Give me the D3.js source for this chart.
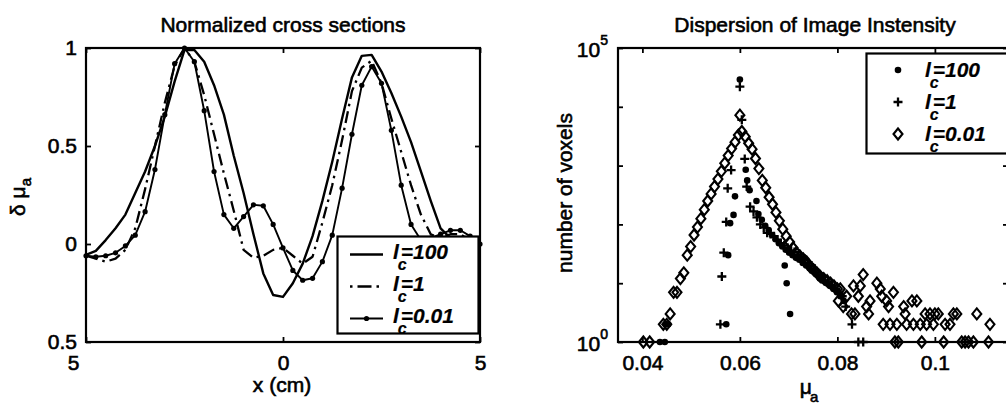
<!DOCTYPE html>
<html>
<head>
<meta charset="utf-8">
<script src="https://cdn.jsdelivr.net/npm/d3@7"></script>
<style>
  html, body { margin: 0; padding: 0; background: #fff; }
  svg { display: block; }
  text { stroke: #000; stroke-width: 0.6px; fill: #000; }
</style>
</head>
<body>
<svg id="fig" width="1006" height="409"></svg>
<script>
// ---------------- Left panel: normalized cross sections ----------------
const xPos = [-5, -4.75, -4.5, -4.25, -4, -3.75, -3.5, -3.25, -3, -2.75, -2.5, -2.25, -2, -1.75, -1.5, -1.25, -1, -0.75, -0.5, -0.25,
  0, 0.25, 0.5, 0.75, 1, 1.25, 1.5, 1.75, 2, 2.25, 2.5, 2.75, 3, 3.25, 3.5, 3.75, 4, 4.25, 4.5, 4.75, 5];

const profileLc100 = [-0.055, -0.035, 0.02, 0.08, 0.15, 0.26, 0.37, 0.5, 0.65, 0.83, 0.99, 0.99, 0.93, 0.81, 0.66, 0.45, 0.26, 0.05, -0.15, -0.26,
  -0.27, -0.2, -0.1, 0.04, 0.22, 0.42, 0.64, 0.85, 0.96, 0.965, 0.88, 0.77, 0.65, 0.52, 0.37, 0.22, 0.08, 0.03, 0.03, 0.02, 0.0];

const profileLc1 = [-0.06, -0.075, -0.09, -0.075, -0.03, 0.08, 0.28, 0.5, 0.72, 0.91, 1.0, 0.93, 0.76, 0.56, 0.36, 0.17, -0.03, -0.07, -0.06, -0.03,
  -0.02, -0.06, -0.1, -0.065, 0.11, 0.3, 0.53, 0.78, 0.9, 0.935, 0.82, 0.64, 0.47, 0.3, 0.15, 0.05, 0.03, 0.05, 0.05, 0.02, -0.02];

const profileLc001 = [-0.06, -0.065, -0.06, -0.045, -0.01, 0.045, 0.165, 0.38, 0.66, 0.92, 1.0, 0.93, 0.68, 0.37, 0.15, 0.08, 0.14, 0.2, 0.195, 0.1,
  -0.02, -0.135, -0.185, -0.175, -0.09, 0.045, 0.285, 0.56, 0.81, 0.905, 0.82, 0.58, 0.3, 0.1, 0.02, 0.03, 0.05, 0.07, 0.07, 0.04, 0.0];

const legendNames = ["100", "1", "0.01"];

const xTickValues = [-5, 0, 5];
const xTickLabels = ["5", "0", "5"];
const yTickValues = [-0.5, 0, 0.5, 1];
const yTickLabels = ["0.5", "0", "0.5", "1"];

// ---------------- Right panel: histogram of reconstructed mu_a ----------------
const muLc100 = [0.0436, 0.0446, 0.0448, 0.0453, 0.0572, 0.0576, 0.0580, 0.0587, 0.0590, 0.0600, 0.0612, 0.0615, 0.0620, 0.0634,
  0.0638, 0.0645, 0.0652, 0.0659, 0.0666, 0.0673, 0.0680, 0.0687, 0.0692, 0.0694, 0.0696, 0.0701, 0.0703, 0.0708, 0.0715,
  0.0722, 0.0729, 0.0736, 0.0743, 0.0750, 0.0757, 0.0764, 0.0771, 0.0778, 0.0785, 0.0792, 0.0799, 0.0806, 0.0813];
const countLc100 = [1, 1, 2, 2, 2, 30, 105, 145, 300, 29000, 850, 560, 380, 250,
  150, 120, 95, 80, 66, 56, 48, 42, 20, 37, 10, 33, 3, 30, 27,
  25, 22, 20, 18, 16, 14, 12, 11, 10, 9, 8, 7, 6, 5];

const muLc1 = [0.0560, 0.0563, 0.0567, 0.0572, 0.0575, 0.0582, 0.0600, 0.0604, 0.0610, 0.0614,
  0.0621, 0.0628, 0.0635, 0.0642, 0.0649, 0.0656, 0.0663, 0.0670, 0.0677, 0.0684, 0.0691, 0.0698, 0.0705, 0.0712,
  0.0719, 0.0726, 0.0733, 0.0740, 0.0747, 0.0754, 0.0761, 0.0768, 0.0775, 0.0782, 0.0789, 0.0796, 0.0803, 0.0810,
  0.0817, 0.0830, 0.0843, 0.0853];
const countLc1 = [2, 13, 33, 110, 410, 840, 22000, 6000, 1300, 440,
  200, 166, 132, 100, 89, 72, 69, 63, 55, 48, 44, 40, 36, 34,
  30, 28, 26, 22, 20, 17, 14, 13, 11, 10, 9, 8, 7, 6,
  4, 2, 1, 1];

const muLc001 = [0.0402, 0.0415, 0.0443, 0.0450, 0.0457, 0.0464, 0.0471, 0.0478, 0.0485, 0.0492, 0.0499, 0.0506, 0.0513,
  0.0520, 0.0527, 0.0534, 0.0541, 0.0548, 0.0555, 0.0562, 0.0569, 0.0576, 0.0583, 0.0590, 0.0597, 0.0600, 0.0604,
  0.0611, 0.0618, 0.0625, 0.0632, 0.0639, 0.0646, 0.0653, 0.0660, 0.0667, 0.0674, 0.0681, 0.0688, 0.0695, 0.0702,
  0.0709, 0.0716, 0.0723, 0.0730, 0.0737, 0.0744, 0.0751, 0.0758, 0.0765, 0.0772, 0.0779, 0.0786, 0.0793, 0.0800,
  0.0802, 0.0806, 0.0812, 0.0819, 0.0829, 0.0833, 0.0836, 0.0843, 0.0847, 0.0853, 0.0860, 0.0864, 0.0867, 0.0881,
  0.0888, 0.0891, 0.0894, 0.0901, 0.0905, 0.0908, 0.0915, 0.0918, 0.0922, 0.0925, 0.0936, 0.0939, 0.0942, 0.0953,
  0.0956, 0.0963, 0.0970, 0.0973, 0.0980, 0.0983, 0.0990, 0.0997, 0.1000, 0.1007, 0.1018, 0.1021, 0.1031, 0.1038,
  0.1045, 0.1055, 0.1062, 0.1069, 0.1079, 0.1086, 0.1110, 0.1113];
const countLc001 = [1, 1, 2, 2, 3, 7, 7, 12, 15, 30, 42, 66, 90,
  125, 178, 250, 330, 440, 590, 800, 1100, 1480, 1950, 2500, 3300, 7200, 3800,
  3100, 2400, 1900, 1320, 890, 560, 420, 290, 220, 160, 115, 83, 63, 50,
  40, 33, 29, 26, 23, 19, 17, 15, 13, 12, 11, 10, 9, 8,
  5, 8, 4, 6, 3, 9, 3, 6, 9, 14, 4, 3, 5, 10,
  8, 6, 2, 5, 4, 2, 7, 1, 2, 1, 4, 3, 2, 5,
  2, 5, 2, 1, 3, 2, 3, 2, 3, 3, 1, 2, 2, 3,
  3, 1, 1, 1, 1, 3, 1, 2];

const muTickValues = [0.04, 0.06, 0.08, 0.1];
const muTickLabels = ["0.04", "0.06", "0.08", "0.1"];
const countTickValues = [1, 10, 100, 1000, 10000, 100000];
const countTickExponents = ["0", "", "", "", "", "5"];

// ---------------- drawing ----------------
const FONT = '"Liberation Sans", Arial, Helvetica, sans-serif';
const FS = 21;
const svg = d3.select("#fig");

function styleAxis(g) {
  g.select(".domain").remove();
  g.attr("font-family", FONT).attr("font-size", FS);
  g.selectAll(".tick line").attr("stroke", "#000").attr("stroke-width", 1.8);
  g.selectAll(".tick text").attr("fill", "#000");
}

function frame(g, box) {
  g.append("rect")
    .attr("x", box.x0).attr("y", box.y0)
    .attr("width", box.x1 - box.x0).attr("height", box.y1 - box.y0)
    .attr("fill", "none").attr("stroke", "#000").attr("stroke-width", 2.2);
}

// italic "l" with a subscript c tucked under it, followed by "=value"
function lcLabel(sel, value) {
  sel.attr("font-family", FONT).attr("font-style", "italic").attr("font-weight", "bold")
    .attr("font-size", FS).style("stroke-width", "0.2px");
  sel.append("tspan").text("l");
  sel.append("tspan").attr("font-size", 16).attr("dx", -1).attr("dy", 11).text("c");
  sel.append("tspan").attr("dx", -6).attr("dy", -11).text("=" + value);
}

// ===== left panel =====
const L = { x0: 86, x1: 480, y0: 48, y1: 342 };
const xL = d3.scaleLinear().domain([-5, 5]).range([L.x0, L.x1]);
const yL = d3.scaleLinear().domain([-0.5, 1]).range([L.y1, L.y0]);
const gL = svg.append("g");

gL.append("g").attr("transform", `translate(0,${L.y1})`)
  .call(d3.axisBottom(xL).tickValues(xTickValues).tickFormat((d, i) => xTickLabels[i])
    .tickSizeInner(-5).tickSizeOuter(0).tickPadding(13))
  .call(styleAxis)
  .call(g => g.selectAll(".tick text").attr("dx", (d, i) => i === 0 ? -13 : 0));
gL.append("g").attr("transform", `translate(0,${L.y0})`)
  .call(d3.axisTop(xL).tickValues(xTickValues).tickFormat("").tickSizeInner(-5).tickSizeOuter(0))
  .call(styleAxis);
gL.append("g").attr("transform", `translate(${L.x0},0)`)
  .call(d3.axisLeft(yL).tickValues(yTickValues).tickFormat((d, i) => yTickLabels[i])
    .tickSizeInner(-5).tickSizeOuter(0).tickPadding(9))
  .call(styleAxis);
gL.append("g").attr("transform", `translate(${L.x1},0)`)
  .call(d3.axisRight(yL).tickValues(yTickValues).tickFormat("").tickSizeInner(-5).tickSizeOuter(0))
  .call(styleAxis);

const profiles = [
  { name: legendNames[0], values: profileLc100, dash: null, width: 2.4, dots: false },
  { name: legendNames[1], values: profileLc1, dash: "12,5,2.5,5", width: 2.3, dots: false },
  { name: legendNames[2], values: profileLc001, dash: null, width: 1.9, dots: true }
];
const line = d3.line().x((d, i) => xL(xPos[i])).y(d => yL(d));

profiles.forEach(p => {
  gL.append("path").datum(p.values)
    .attr("d", line).attr("fill", "none").attr("stroke", "#000")
    .attr("stroke-width", p.width).attr("stroke-linejoin", "round")
    .attr("stroke-dasharray", p.dash);
  if (p.dots) {
    gL.append("g").selectAll("circle").data(p.values).join("circle")
      .attr("cx", (d, i) => xL(xPos[i])).attr("cy", d => yL(d)).attr("r", 2.6).attr("fill", "#000");
  }
});

frame(gL, L);

gL.append("text").attr("x", (L.x0 + L.x1) / 2).attr("y", 32).attr("text-anchor", "middle")
  .attr("font-family", FONT).attr("font-size", FS).text("Normalized cross sections");
gL.append("text").attr("x", 282).attr("y", 392).attr("text-anchor", "middle")
  .attr("font-family", FONT).attr("font-size", FS).text("x (cm)");
const yLab = gL.append("text").attr("transform", "translate(25,197) rotate(-90)")
  .attr("text-anchor", "middle").attr("font-family", FONT).attr("font-size", FS);
yLab.append("tspan").text("δ μ");
yLab.append("tspan").attr("font-size", 15).attr("dy", 6).text("a");

// legend of the left panel
const legL = { x0: 337.5, x1: 478.5, y0: 236.5, y1: 333.5, row0: 254.5, step: 32 };
gL.append("rect").attr("x", legL.x0).attr("y", legL.y0)
  .attr("width", legL.x1 - legL.x0).attr("height", legL.y1 - legL.y0)
  .attr("fill", "#fff").attr("stroke", "#000").attr("stroke-width", 2.2);
profiles.forEach((p, i) => {
  const y = legL.row0 + i * legL.step;
  gL.append("line").attr("x1", 350).attr("x2", 383).attr("y1", y).attr("y2", y)
    .attr("stroke", "#000").attr("stroke-width", p.width)
    .attr("stroke-dasharray", p.dash ? "2.5,5,14,5" : null);
  if (p.dots) gL.append("circle").attr("cx", 366.5).attr("cy", y).attr("r", 2.6).attr("fill", "#000");
  gL.append("text").attr("x", 393).attr("y", y + 4).call(lcLabel, p.name);
});

// ===== right panel =====
const R = { x0: 618, x1: 1008, y0: 48, y1: 342 };
const xR = d3.scaleLinear().domain([0.035, 0.115]).range([R.x0, R.x1]);
const yR = d3.scaleLog().domain([1, 1e5]).range([R.y1, R.y0]);
const gR = svg.append("g");

gR.append("g").attr("transform", `translate(0,${R.y1})`)
  .call(d3.axisBottom(xR).tickValues(muTickValues).tickFormat((d, i) => muTickLabels[i])
    .tickSizeInner(-5).tickSizeOuter(0).tickPadding(13))
  .call(styleAxis);
gR.append("g").attr("transform", `translate(0,${R.y0})`)
  .call(d3.axisTop(xR).tickValues(muTickValues).tickFormat("").tickSizeInner(-5).tickSizeOuter(0))
  .call(styleAxis);
gR.append("g").attr("transform", `translate(${R.x0},0)`)
  .call(d3.axisLeft(yR).tickValues(countTickValues).tickFormat("").tickSizeInner(-5).tickSizeOuter(0))
  .call(styleAxis);
gR.append("g").attr("transform", `translate(${R.x1},0)`)
  .call(d3.axisRight(yR).tickValues(countTickValues).tickFormat("").tickSizeInner(-5).tickSizeOuter(0))
  .call(styleAxis);

// decade labels 10^n at the ends of the count axis
const decadeLabels = countTickValues.map((v, i) => ({ v, e: countTickExponents[i] })).filter(d => d.e !== "");
const dl = gR.selectAll("text.decade").data(decadeLabels).join("text")
  .attr("class", "decade").attr("x", R.x0 - 10).attr("y", d => yR(d.v) + 9)
  .attr("text-anchor", "end").attr("font-family", FONT).attr("font-size", FS);
dl.append("tspan").text("10");
dl.append("tspan").attr("font-size", 14).attr("dy", -12).text(d => d.e);

const dotPts = muLc100.map((m, i) => [m, countLc100[i]]);
const plusPts = muLc1.map((m, i) => [m, countLc1[i]]);
const diamondPts = muLc001.map((m, i) => [m, countLc001[i]]);

const PLUS = "M-4.5,0H4.5M0,-4.5V4.5";
const DIAMOND = "M0,-5.5L4.5,0L0,5.5L-4.5,0Z";

gR.append("g").selectAll("circle").data(dotPts).join("circle")
  .attr("cx", d => xR(d[0])).attr("cy", d => yR(d[1])).attr("r", 3.3).attr("fill", "#000");
gR.append("g").selectAll("path").data(plusPts).join("path")
  .attr("transform", d => `translate(${xR(d[0])},${yR(d[1])})`)
  .attr("d", PLUS).attr("stroke", "#000").attr("stroke-width", 2.3).attr("fill", "none");
gR.append("g").selectAll("path").data(diamondPts).join("path")
  .attr("transform", d => `translate(${xR(d[0])},${yR(d[1])})`)
  .attr("d", DIAMOND).attr("stroke", "#000").attr("stroke-width", 2.1).attr("fill", "none");

frame(gR, R);

gR.append("text").attr("x", 815).attr("y", 32).attr("text-anchor", "middle")
  .attr("font-family", FONT).attr("font-size", FS).text("Dispersion of Image Instensity");
const xLabR = gR.append("text").attr("x", 809).attr("y", 394).attr("text-anchor", "middle")
  .attr("font-family", FONT).attr("font-size", FS);
xLabR.append("tspan").text("μ");
xLabR.append("tspan").attr("font-size", 15).attr("dx", -2).attr("dy", 8).text("a");
gR.append("text").attr("transform", "translate(572,193) rotate(-90)").attr("text-anchor", "middle")
  .attr("font-family", FONT).attr("font-size", FS).text("number of voxels");

// legend of the right panel
const legR = { x0: 866.5, x1: 1010, y0: 53.5, y1: 153.5, row0: 70, step: 32 };
gR.append("rect").attr("x", legR.x0).attr("y", legR.y0)
  .attr("width", legR.x1 - legR.x0).attr("height", legR.y1 - legR.y0)
  .attr("fill", "#fff").attr("stroke", "#000").attr("stroke-width", 2.2);
legendNames.forEach((name, i) => {
  const y = legR.row0 + i * legR.step;
  if (i === 0) gR.append("circle").attr("cx", 898).attr("cy", y).attr("r", 3.3).attr("fill", "#000");
  if (i === 1) gR.append("path").attr("transform", `translate(898,${y})`).attr("d", PLUS)
    .attr("stroke", "#000").attr("stroke-width", 2.3);
  if (i === 2) gR.append("path").attr("transform", `translate(898,${y})`).attr("d", DIAMOND)
    .attr("stroke", "#000").attr("stroke-width", 2.1).attr("fill", "none");
  gR.append("text").attr("x", 925).attr("y", y + 7).call(lcLabel, name);
});
</script>
</body>
</html>
